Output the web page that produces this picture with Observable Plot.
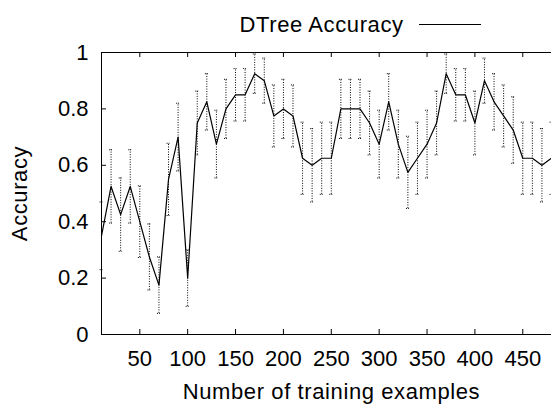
<!DOCTYPE html>
<html>
<head>
<meta charset="utf-8">
<script src="https://cdn.jsdelivr.net/npm/d3@7"></script>
<script src="https://cdn.jsdelivr.net/npm/@observablehq/plot@0.6"></script>
<style>
  html, body { margin: 0; padding: 0; background: #fff; overflow: hidden; }
  #wrap { position: relative; width: 551px; height: 404px; font-family: "Liberation Sans", Arial, sans-serif; }
  #legend-text { position: absolute; right: 147.4px; top: 12.5px; font-size: 22px; line-height: 24px; letter-spacing: 0.6px; color: #000; white-space: nowrap; }
  #legend-line { position: absolute; left: 419px; top: 23.5px; width: 62px; height: 0; border-top: 1px solid #000; }
  .lbl text { letter-spacing: 0.6px; }
</style>
</head>
<body>
<div id="wrap"><div id="chart"></div><div id="legend-text">DTree Accuracy</div><div id="legend-line"></div></div>
<script>
const trainingSizes = [10,20,30,40,50,60,70,80,90,100,110,120,130,140,150,160,170,180,190,200,210,220,230,240,250,260,270,280,290,300,310,320,330,340,350,360,370,380,390,400,410,420,430,440,450,460,470,480];
const accuracy = [0.35,0.525,0.425,0.525,0.40,0.275,0.175,0.55,0.70,0.20,0.75,0.825,0.675,0.80,0.85,0.85,0.925,0.90,0.775,0.80,0.775,0.625,0.60,0.625,0.625,0.80,0.80,0.80,0.75,0.675,0.825,0.675,0.575,0.625,0.675,0.75,0.925,0.85,0.85,0.75,0.90,0.825,0.775,0.725,0.625,0.625,0.60,0.625];
const errorHalf = [0.12,0.13,0.13,0.13,0.127,0.117,0.10,0.128,0.12,0.10,0.113,0.10,0.12,0.105,0.093,0.093,0.07,0.08,0.11,0.105,0.11,0.128,0.13,0.128,0.128,0.105,0.105,0.105,0.113,0.12,0.10,0.12,0.128,0.128,0.12,0.113,0.07,0.093,0.093,0.113,0.08,0.10,0.11,0.118,0.128,0.128,0.13,0.128];
const xTicks = [50,100,150,200,250,300,350,400,450];
const yTicks = [0,0.2,0.4,0.6,0.8,1];

const data = trainingSizes.map((n, i) => ({n, acc: accuracy[i], err: errorHalf[i]}));

const W = 551, H = 404, mL = 101, mR = 0, mT = 52, mB = 70;
const plotH = H - mT - mB, plotW = W - mL - mR;
const dash = "1,1.5";

const chart = Plot.plot({
  width: W, height: H,
  marginLeft: mL, marginRight: mR, marginTop: mT, marginBottom: mB,
  style: {fontFamily: "'Liberation Sans', Arial, sans-serif", fontSize: "22px", color: "#000", background: "#fff"},
  x: {domain: [10, 480]},
  y: {domain: [0, 1]},
  marks: [
    Plot.ruleX(data, {x: "n", y1: d => d.acc - d.err, y2: d => d.acc + d.err, stroke: "#000", strokeWidth: 1, strokeDasharray: dash}),
    Plot.ruleY(data, {y: d => d.acc + d.err, x1: d => d.n - 1.5, x2: d => d.n + 1.5, stroke: "#000", strokeWidth: 1, strokeDasharray: "1,1"}),
    Plot.ruleY(data, {y: d => d.acc - d.err, x1: d => d.n - 1.5, x2: d => d.n + 1.5, stroke: "#000", strokeWidth: 1, strokeDasharray: "1,1"}),
    Plot.line(data, {x: "n", y: "acc", stroke: "#000", strokeWidth: 1.2}),
    Plot.tickX(xTicks, {x: d => d, insetTop: plotH - 5, stroke: "#000"}),
    Plot.tickX(xTicks, {x: d => d, insetBottom: plotH - 5, stroke: "#000"}),
    Plot.tickY(yTicks, {y: d => d, insetRight: plotW - 5, stroke: "#000"}),
    Plot.ruleY([0, 1], {stroke: "#000", strokeWidth: 1}),
    Plot.ruleX([10], {stroke: "#000", strokeWidth: 1}),
    Plot.axisX({ticks: xTicks, tickSize: 0, tickPadding: 16, label: null, tickFormat: d => String(d)}),
    Plot.axisY({ticks: yTicks, tickSize: 0, tickPadding: 13, label: null, tickFormat: d => String(+d.toFixed(1))}),
    Plot.text(["Number of training examples"], {frameAnchor: "bottom", lineAnchor: "middle", textAnchor: "middle", dy: 57, dx: 5, text: d => d, fill: "#000", className: "lbl"}),
    Plot.text(["Accuracy"], {frameAnchor: "left", lineAnchor: "middle", textAnchor: "middle", dx: -82, rotate: -90, text: d => d, fill: "#000", className: "lbl"})
  ]
});
document.getElementById("chart").appendChild(chart);
</script>
</body>
</html>
